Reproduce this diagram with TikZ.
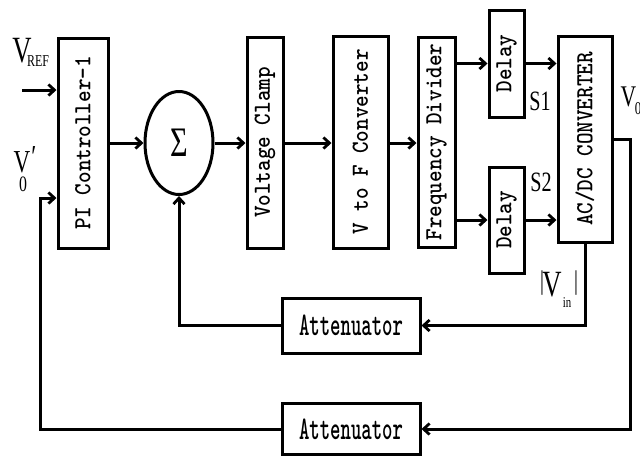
\documentclass[tikz,border=0pt]{standalone}
\usepackage{fontspec}
\newfontfamily\lbl[FakeStretch=0.72]{Liberation Serif}
\usetikzlibrary{arrows.meta,shapes.geometric}
\tikzset{
  blk/.style={draw, line width=3pt, inner sep=0pt, anchor=center},
  lab/.style={inner sep=0pt, anchor=center},
  arr/.style={line width=3pt, -{Straight Barb[length=6pt,width=11pt,line width=2.8pt]}},
}
\newcommand{\myvtext}[1]{\rotatebox{90}{\scalebox{0.9}[1]{\ttfamily\bfseries\fontsize{24.5}{24.5}\selectfont #1}}}
\newcommand{\myhtext}[1]{\scalebox{0.6}[1]{\ttfamily\bfseries\fontsize{33}{33}\selectfont #1}}
\begin{document}
\begin{tikzpicture}[x=1pt,y=-1pt]
\useasboundingbox (0,0) rectangle (640,456);
% blocks
\node[blk, minimum width=50pt, minimum height=210pt] (pi) at (83,143) {\myvtext{PI Controller-1}};
\node[blk, ellipse, minimum width=68pt, minimum height=103pt] (sum) at (179,143)
  {\raisebox{-4.5pt}{\lbl\fontsize{42}{42}\selectfont Σ}};
\node[blk, minimum width=36pt, minimum height=211pt] (vc) at (265,142.5) {\myvtext{Voltage Clamp}};
\node[blk, minimum width=55pt, minimum height=212pt] (vf) at (360.5,142) {\myvtext{V to F Converter}};
\node[blk, minimum width=37pt, minimum height=210pt] (fd) at (436.5,142) {\myvtext{Frequency Divider}};
\node[blk, minimum width=35pt, minimum height=107pt] (d1) at (506.5,63.5) {\myvtext{Delay}};
\node[blk, minimum width=35pt, minimum height=106pt] (d2) at (506.5,220) {\myvtext{Delay}};
\node[blk, minimum width=54pt, minimum height=206pt] (ac) at (585,139) {\myvtext{AC/DC CONVERTER}};
\node[blk, minimum width=138pt, minimum height=55pt] (at1) at (351,325.5) {\myhtext{Attenuator}};
\node[blk, minimum width=138pt, minimum height=51pt] (at2) at (351,429) {\myhtext{Attenuator}};
% coordinates
\coordinate (vrefin) at (22,90);
\coordinate (fbc) at (40,198);
\coordinate (outc) at (630,139);
% connectors
\draw[arr] (vrefin) -- (vrefin -| pi.west);
\draw[arr] (at2.west) -| (fbc) -- (fbc -| pi.west);
\draw[arr] (pi.east |- sum) -- (sum.west);
\draw[arr] (sum.east) -- (sum.east -| vc.west);
\draw[arr] (vc.east |- sum) -- (sum -| vf.west);
\draw[arr] (vf.east |- sum) -- (sum -| fd.west);
\draw[arr] (fd.east |- d1) -- (d1.west);
\draw[arr] (fd.east |- d2) -- (d2.west);
\draw[arr] (d1.east) -- (d1.east -| ac.west);
\draw[arr] (d2.east) -- (d2.east -| ac.west);
\draw[arr] (ac.east) -- (outc) |- (at2.east);
\draw[arr] (ac.south) |- (at1.east);
\draw[arr] (at1.west) -| (sum.south);
% labels
\node[lab] (vrefV) at (22,50.5) {\lbl\fontsize{37}{37}\selectfont V};
\node[lab] (vrefS) at (38,61.5) {\lbl\fontsize{16.6}{16.6}\selectfont REF};
\node[lab] (v0pV) at (22,162.5) {\lbl\fontsize{32}{32}\selectfont V};
\node[lab] (v0pP) at (34,157) {\lbl\fontsize{32}{32}\selectfont ′};
\node[lab] (v0pS) at (23,184.5) {\lbl\fontsize{22}{22}\selectfont 0};
\node[lab] (v0V) at (628.5,97) {\lbl\fontsize{30}{30}\selectfont V};
\node[lab] (v0S) at (638,109) {\lbl\fontsize{18}{18}\selectfont 0};
\node[lab] (s1) at (540,101) {\lbl\fontsize{28}{28}\selectfont S1};
\node[lab] (s2) at (541,182) {\lbl\fontsize{28}{28}\selectfont S2};
\node[lab] (vinL) at (542,283) {\lbl\fontsize{27}{27}\selectfont |};
\node[lab] (vinV) at (552,284.5) {\lbl\fontsize{37}{37}\selectfont V};
\node[lab] (vinS) at (567,303) {\lbl\fontsize{15}{15}\selectfont in};
\node[lab] (vinR) at (576,283) {\lbl\fontsize{27}{27}\selectfont |};
\end{tikzpicture}
\end{document}
